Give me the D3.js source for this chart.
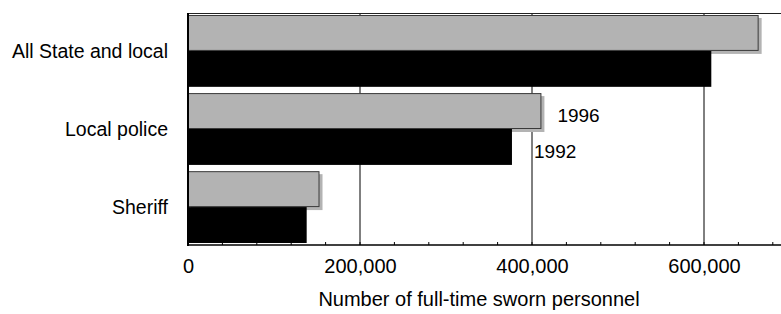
<!DOCTYPE html>
<html>
<head>
<meta charset="utf-8">
<script src="https://cdn.jsdelivr.net/npm/d3@7"></script>
<style>
  body { margin: 0; background: #fff; }
  svg { display: block; font-family: "Liberation Sans", Arial, sans-serif; }
</style>
</head>
<body>
<div id="chart"></div>
<script>
const categories = ["All State and local", "Local police", "Sheriff"];
const years = ["1996", "1992"];
const values1996 = [663535, 410956, 152922];
const values1992 = [608500, 376700, 138000];
const xTicks = [0, 200000, 400000, 600000];

const W = 781, H = 314;
const MARGIN = { TOP: 13, LEFT: 188, BOTTOM: 245 };
const GRAY = "#b3b3b3";

const svg = d3.select("#chart").append("svg")
  .attr("width", W).attr("height", H);

const x = d3.scaleLinear().domain([0, 700000]).range([MARGIN.LEFT, MARGIN.LEFT + 602]);
const y = d3.scaleBand().domain(categories).range([15, 243]).paddingInner(0.08).paddingOuter(0);
const ySub = d3.scaleBand().domain(years).range([0, y.bandwidth()]);

const data = categories.map((c, i) => ({ cat: c, "1996": values1996[i], "1992": values1992[i] }));

// gridlines
svg.append("g").selectAll("line").data(xTicks.slice(1)).join("line")
  .attr("x1", d => x(d)).attr("x2", d => x(d))
  .attr("y1", MARGIN.TOP).attr("y2", MARGIN.BOTTOM)
  .attr("stroke", "#000").attr("stroke-width", 1);

// top border
svg.append("line")
  .attr("x1", MARGIN.LEFT).attr("x2", W)
  .attr("y1", MARGIN.TOP + 0.5).attr("y2", MARGIN.TOP + 0.5)
  .attr("stroke", "#222").attr("stroke-width", 1);

// bars
const groups = svg.append("g").selectAll("g").data(data).join("g")
  .attr("transform", d => `translate(0,${y(d.cat)})`);

// shadow for 1996 bars
groups.append("rect")
  .attr("x", x(0) + 3).attr("y", ySub("1996") + 3)
  .attr("width", d => x(d["1996"]) - x(0))
  .attr("height", ySub.bandwidth())
  .attr("fill", GRAY);

groups.append("rect")
  .attr("x", x(0) + 0.5).attr("y", ySub("1996") + 0.5)
  .attr("width", d => x(d["1996"]) - x(0) - 1)
  .attr("height", ySub.bandwidth() - 1)
  .attr("fill", GRAY).attr("stroke", "#3a3a3a").attr("stroke-width", 1);

groups.append("rect")
  .attr("x", x(0) - 1).attr("y", ySub("1992"))
  .attr("width", d => x(d["1992"]) - x(0) + 1)
  .attr("height", ySub.bandwidth())
  .attr("fill", "#000");

// x axis
const xAxis = svg.append("g")
  .attr("transform", `translate(0,${MARGIN.BOTTOM})`)
  .call(d3.axisBottom(x).tickValues(xTicks).tickSize(0).tickPadding(14)
    .tickFormat(d3.format(",")));
xAxis.select(".domain").remove();
xAxis.selectAll("text").attr("font-size", 20).attr("fill", "#000")
  .attr("font-family", "Liberation Sans, Arial, sans-serif");

// minor ticks
svg.append("g").selectAll("line").data(d3.range(0, 700001, 40000)).join("line")
  .attr("x1", d => x(d)).attr("x2", d => x(d))
  .attr("y1", MARGIN.BOTTOM).attr("y2", MARGIN.BOTTOM - 3)
  .attr("stroke", "#000").attr("stroke-width", 1);

svg.append("line")
  .attr("x1", MARGIN.LEFT).attr("x2", W)
  .attr("y1", MARGIN.BOTTOM).attr("y2", MARGIN.BOTTOM)
  .attr("stroke", "#000").attr("stroke-width", 1.5);

// y axis line
svg.append("line")
  .attr("x1", MARGIN.LEFT).attr("x2", MARGIN.LEFT)
  .attr("y1", MARGIN.TOP).attr("y2", MARGIN.BOTTOM + 1)
  .attr("stroke", "#000").attr("stroke-width", 2);

// category labels
svg.append("g").selectAll("text").data(categories).join("text")
  .attr("x", 168)
  .attr("y", d => y(d) + y.bandwidth() / 2)
  .attr("dy", "0.35em")
  .attr("text-anchor", "end")
  .attr("font-size", 19.5)
  .text(d => d);

// year labels next to Local police
const lp = data[1];
svg.append("text")
  .attr("x", x(lp["1996"]) + 16)
  .attr("y", y(lp.cat) + ySub("1996") + ySub.bandwidth() / 2 + 4)
  .attr("dy", "0.35em")
  .attr("font-size", 19)
  .text("1996");
svg.append("text")
  .attr("x", x(xTicks[2]) + 2)
  .attr("y", y(lp.cat) + ySub("1992") + ySub.bandwidth() / 2 + 4)
  .attr("dy", "0.35em")
  .attr("font-size", 19)
  .text("1992");

// axis title
svg.append("text")
  .attr("x", 479)
  .attr("y", 306)
  .attr("text-anchor", "middle")
  .attr("font-size", 20)
  .text("Number of full-time sworn personnel");
</script>
</body>
</html>
